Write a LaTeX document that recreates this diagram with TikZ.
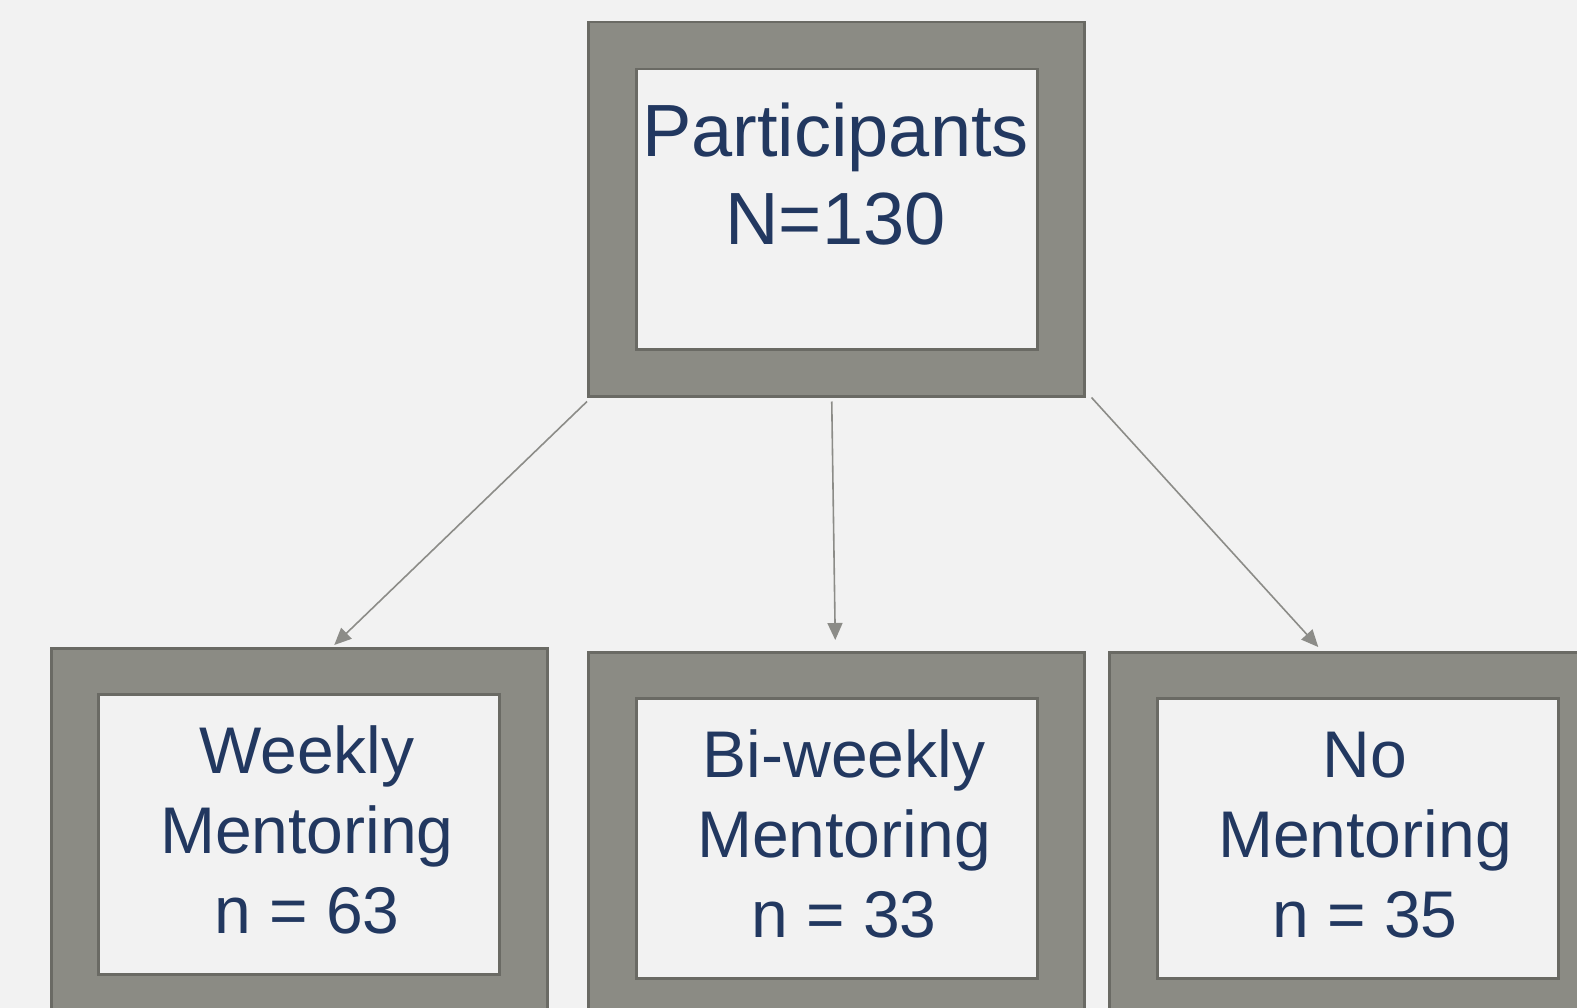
\documentclass[tikz,border=0pt]{standalone}
\usepackage{fontspec}
\setmainfont{Liberation Sans}
\usetikzlibrary{arrows.meta}
\definecolor{bg}{HTML}{F2F2F2}
\definecolor{framefill}{HTML}{8B8B84}
\definecolor{edgecol}{HTML}{6A6A64}
\definecolor{ink}{HTML}{223860}
\definecolor{arrcol}{HTML}{8C8C88}
\begin{document}
\begin{tikzpicture}[x=1pt,y=-1pt,
  outerbox/.style={draw=edgecol,line width=2.5pt,fill=framefill,minimum width=496pt,minimum height=374pt,inner sep=0pt,anchor=north west},
  innerbox/.style={draw=edgecol,line width=2.5pt,fill=bg,minimum width=401pt,minimum height=280pt,inner sep=0pt,anchor=north west},
  bigtext/.style={text=ink,align=center,inner sep=0pt,anchor=base,font=\fontsize{74}{88}\selectfont},
  smalltext/.style={text=ink,align=center,inner sep=0pt,anchor=base,font=\fontsize{66}{80}\selectfont},
  conn/.style={draw=arrcol,line width=1.6pt,-{Triangle[length=17pt,width=15pt]}}]
\clip (0,0) rectangle (1577,1008);
\fill[bg] (0,0) rectangle (1577,1008);
% top
\node[outerbox] (top) at (587,21) {};
\node[innerbox] (topin) at (635,68) {};
\node[bigtext] (toptxt) at (835.5,245) {Participants\\N=130};
% bottom boxes
\node[outerbox] (wk) at (50,647) {};
\node[innerbox] (wkin) at (97,693) {};
\node[smalltext] (wktxt) at (307,933) {Weekly\\Mentoring\\n = 63};
\node[outerbox] (bw) at (587,651) {};
\node[innerbox] (bwin) at (635,697) {};
\node[smalltext] (bwtxt) at (844,937) {Bi-weekly\\Mentoring\\n = 33};
\node[outerbox] (nm) at (1108,651) {};
\node[innerbox] (nmin) at (1156,697) {};
\node[smalltext] (nmtxt) at (1365,937) {No\\Mentoring\\n = 35};
% connectors
\draw[conn] ([yshift=-4pt]top.south west) -- ([xshift=35pt,yshift=2pt]wk.north);
\draw[conn] ([xshift=-4.5pt,yshift=-4pt]top.south) -- ([xshift=-1pt,yshift=11pt]bw.north);
\draw[conn] ([xshift=6pt]top.south east) -- ([xshift=-39pt,yshift=4pt]nm.north);
\end{tikzpicture}
\end{document}
